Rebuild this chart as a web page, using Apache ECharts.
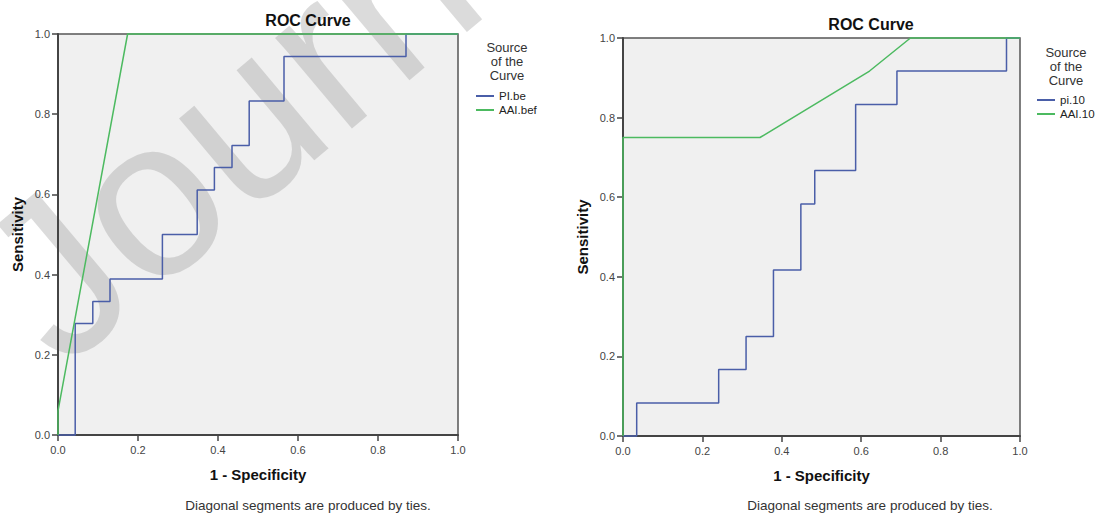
<!DOCTYPE html>
<html><head><meta charset="utf-8">
<script src="https://cdn.jsdelivr.net/npm/echarts@6/dist/echarts.min.js"></script>
<style>html,body{margin:0;padding:0;background:#fff}#c{width:1096px;height:518px}</style>
</head><body><div id="c"></div>
<script>
// ---- data ----
const tickValues = ['0.0', '0.2', '0.4', '0.6', '0.8', '1.0'];
const chartTitle = 'ROC Curve';
const xName = '1 - Specificity';
const yName = 'Sensitivity';
const footnote = 'Diagonal segments are produced by ties.';
const legendHeader = 'Source\nof the\nCurve';

// left chart: [1 - specificity, sensitivity]
const leftNames = ['PI.be', 'AAI.bef'];
const piBe = [[0,0],[0.043,0.278],[0.087,0.333],[0.130,0.389],[0.261,0.5],[0.348,0.611],[0.391,0.667],[0.435,0.722],[0.478,0.833],[0.565,0.944],[0.870,1.0],[1,1]];
const aaiBef = [[0,0],[0,0.06],[0.174,1.0],[1,1]];

// right chart
const rightNames = ['pi.10', 'AAI.10'];
const pi10 = [[0,0],[0.0345,0.083],[0.241,0.167],[0.310,0.25],[0.379,0.417],[0.448,0.583],[0.483,0.667],[0.586,0.833],[0.690,0.917],[0.966,1.0],[1,1]];
const aai10 = [[0,0],[0,0.75],[0.345,0.75],[0.621,0.917],[0.724,1.0],[1,1]];

const watermark = 'Journal Pre-proof';

// ---- styling ----
const F = '"Liberation Sans", Arial, Helvetica, sans-serif';
const BLUE = '#4a5ea8';
const GREEN = '#4cba60';

function xAx(gi) {
  return {
    type: 'value', gridIndex: gi, min: 0, max: 1, interval: 0.2,
    name: xName, nameLocation: 'middle', nameGap: 32,
    nameTextStyle: { fontFamily: F, fontSize: 15, fontWeight: 'bold', color: '#111' },
    axisLine: { show: true, onZero: false, lineStyle: { color: '#444', width: 2 } },
    axisTick: { show: true, length: 6, lineStyle: { color: '#444', width: 1.5 } },
    axisLabel: { margin: 9, fontSize: 11, color: '#444', fontFamily: F,
      formatter: v => tickValues[Math.round(v * 5)] },
    splitLine: { show: false }, z: 1.5
  };
}
function yAx(gi) {
  return {
    type: 'value', gridIndex: gi, min: 0, max: 1, interval: 0.2,
    name: yName, nameLocation: 'middle', nameGap: 33,
    nameTextStyle: { fontFamily: F, fontSize: 15, fontWeight: 'bold', color: '#111' },
    axisLine: { show: true, onZero: false, lineStyle: { color: '#444', width: 2 } },
    axisTick: { show: true, length: 6, lineStyle: { color: '#444', width: 1.5 } },
    axisLabel: { margin: 8, fontSize: 11, color: '#444', fontFamily: F,
      formatter: v => tickValues[Math.round(v * 5)] },
    splitLine: { show: false }, z: 1.5
  };
}
function line(name, data, gi, color, step) {
  return {
    type: 'line', name, data, xAxisIndex: gi, yAxisIndex: gi,
    step: step ? 'end' : false, symbol: 'none', clip: false,
    color, lineStyle: { color, width: 1.5 }, z: 3, silent: true
  };
}
function legend(names, left, top) {
  return {
    data: names, orient: 'vertical', left, top, icon: 'rect', padding: 0,
    itemWidth: 18, itemHeight: 2, itemGap: 0, selectedMode: false,
    textStyle: { fontSize: 11.5, color: '#222', fontFamily: F, lineHeight: 14 }
  };
}
function txt(text, x, y, size, weight, color, lh) {
  return { type: 'text', x, y, z: 5, silent: true,
    style: { text, fontSize: size, fontWeight: weight, fontFamily: F, fill: color,
      align: 'center', verticalAlign: lh ? 'top' : 'middle', lineHeight: lh || undefined } };
}

const chart = echarts.init(document.getElementById('c'), null, { renderer: 'svg' });
chart.setOption({
  animation: false,
  backgroundColor: '#fff',
  grid: [
    { left: 58, top: 34, width: 400, height: 401, show: true, backgroundColor: '#f0f0f0', borderColor: '#555', borderWidth: 1.5 },
    { left: 623, top: 38, width: 397, height: 398, show: true, backgroundColor: '#f0f0f0', borderColor: '#555', borderWidth: 1.5 }
  ],
  xAxis: [xAx(0), xAx(1)],
  yAxis: [yAx(0), yAx(1)],
  legend: [legend(leftNames, 476, 89), legend(rightNames, 1037, 93)],
  series: [
    line(leftNames[0], piBe, 0, BLUE, true),
    line(leftNames[1], aaiBef, 0, GREEN, false),
    line(rightNames[0], pi10, 1, BLUE, true),
    line(rightNames[1], aai10, 1, GREEN, false)
  ],
  graphic: { elements: [
    txt(chartTitle, 308, 20, 16, 'bold', '#111'),
    txt(chartTitle, 871, 24, 16, 'bold', '#111'),
    txt(footnote, 308, 505, 13.5, 'normal', '#333'),
    txt(footnote, 870, 505, 13.5, 'normal', '#333'),
    txt(legendHeader, 507, 40, 13, 'normal', '#333', 14),
    txt(legendHeader, 1066, 45, 13, 'normal', '#333', 14),
    { type: 'text', x: 12, y: 312, rotation: 40 * Math.PI / 180, z: 1, silent: true,
      style: { text: watermark, fontSize: 225, fontFamily: F, fill: 'rgba(150,150,150,0.34)',
        align: 'left', verticalAlign: 'middle' } }
  ] }
});
</script>
</body></html>
